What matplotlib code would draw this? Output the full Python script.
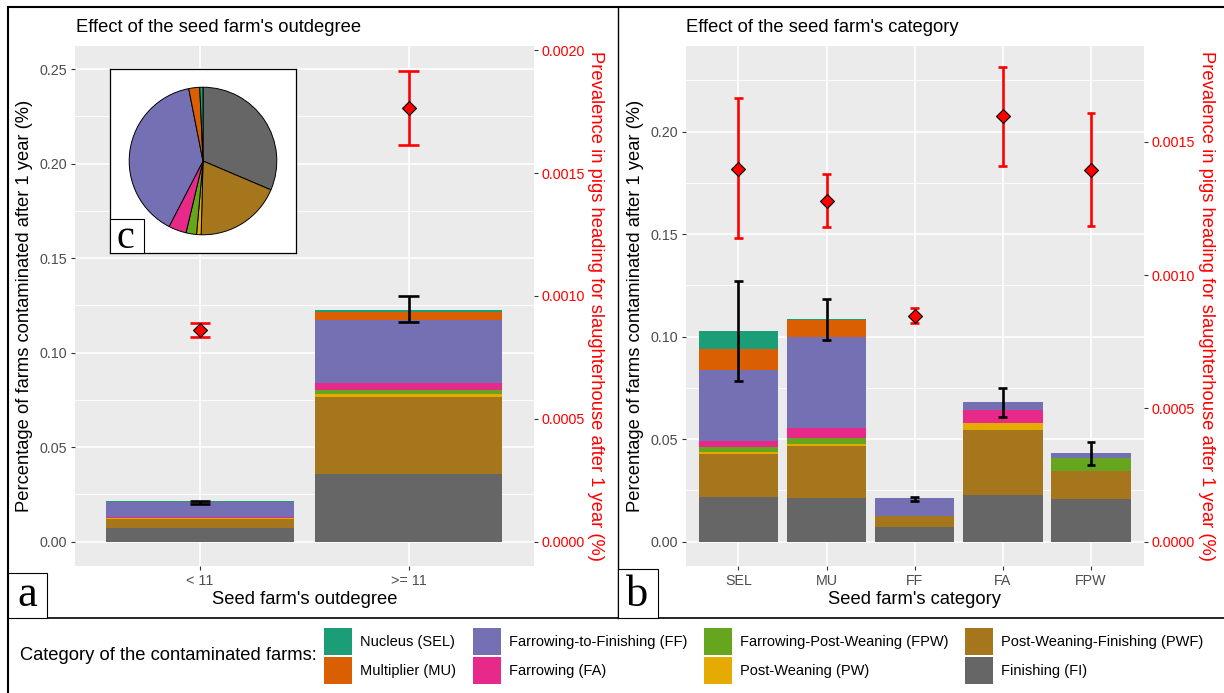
import matplotlib
matplotlib.use('Agg')
import matplotlib.pyplot as plt
import numpy as np
from matplotlib.patches import Patch, Rectangle
from matplotlib.lines import Line2D
from matplotlib.ticker import MultipleLocator, FormatStrFormatter, FixedLocator

# ---------------- data ----------------
farm_codes = ['SEL', 'MU', 'FF', 'FA', 'FPW', 'PW', 'PWF', 'FI']
farm_labels = ['Nucleus (SEL)', 'Multiplier (MU)', 'Farrowing-to-Finishing (FF)',
               'Farrowing (FA)', 'Farrowing-Post-Weaning (FPW)', 'Post-Weaning (PW)',
               'Post-Weaning-Finishing (PWF)', 'Finishing (FI)']
farm_colors = ['#1B9E77', '#D95F02', '#7570B3', '#E7298A', '#66A61E', '#E6AB02',
               '#A6761D', '#666666']

# panel a : outdegree groups, contributions (%) in farm_codes order
outdeg_groups = ['< 11', '>= 11']
outdeg_lt11 = [0.0004, 0.0001, 0.0078, 0.0003, 0.0003, 0.0002, 0.0050, 0.0072]
outdeg_ge11 = [0.0009, 0.0042, 0.0337, 0.0036, 0.0021, 0.0016, 0.0405, 0.0360]
outdeg_err_low = [0.0198, 0.1160]
outdeg_err_high = [0.0217, 0.1300]
outdeg_prev = [0.000861, 0.001766]
outdeg_prev_low = [0.000831, 0.001615]
outdeg_prev_high = [0.000890, 0.001916]

# panel b : seed farm categories
seed_groups = ['SEL', 'MU', 'FF', 'FA', 'FPW']
seed_SEL = [0.0088, 0.0101, 0.0350, 0.0027, 0.0025, 0.0009, 0.0210, 0.0218]
seed_MU = [0.0003, 0.0086, 0.0441, 0.0050, 0.0030, 0.0008, 0.0255, 0.0213]
seed_FF = [0.0, 0.0, 0.0088, 0.0, 0.0, 0.0, 0.0054, 0.00715]
seed_FA = [0.0, 0.0, 0.0039, 0.0063, 0.0, 0.0034, 0.0317, 0.0228]
seed_FPW = [0.0, 0.0, 0.0025, 0.0, 0.0063, 0.0, 0.0137, 0.0208]
seed_err_low = [0.0782, 0.0982, 0.0200, 0.0610, 0.0374]
seed_err_high = [0.1272, 0.1185, 0.0218, 0.0751, 0.0485]
seed_prev = [0.00140, 0.001279, 0.000848, 0.001596, 0.001396]
seed_prev_low = [0.001139, 0.001179, 0.000822, 0.001411, 0.001185]
seed_prev_high = [0.001664, 0.001381, 0.000877, 0.001781, 0.001609]

# panel c : pie shares in farm_codes order
pie_share = [0.007, 0.024, 0.393, 0.039, 0.023, 0.010, 0.190, 0.314]

SEC_RATIO = 130.0

# ---------------- layout helpers ----------------
W, H = 1224, 693
DPI = 100
plt.rcParams['font.family'] = ['Liberation Sans', 'DejaVu Sans']


def fx(px):
    return px / W


def fy(py):
    return 1 - py / H


fig = plt.figure(figsize=(W / DPI, H / DPI), dpi=DPI)
fig.patch.set_facecolor('white')

TICK_FS = 10.3
TITLE_FS = 13.2
GRID_BG = '#EBEBEB'


def make_panel(x0, x1, groups, stacks, err_lo, err_hi, prev, prev_lo, prev_hi,
               ylim, yticks, y2ticks):
    ax = fig.add_axes([fx(x0), fy(566), (x1 - x0) / W, 520 / H])
    ax.set_facecolor(GRID_BG)
    for s in ax.spines.values():
        s.set_visible(False)
    n = len(groups)
    xs = np.arange(n)
    # stacked bars: bottom FI ... top SEL
    bottoms = np.zeros(n)
    for k in range(len(farm_codes) - 1, -1, -1):
        vals = np.array([st[k] for st in stacks])
        ax.bar(xs, vals, width=0.9, bottom=bottoms, color=farm_colors[k],
               edgecolor='none', zorder=2)
        bottoms = bottoms + vals
    # black error bars
    ax.vlines(xs, err_lo, err_hi, color='black', lw=1.9, zorder=3)
    ax.hlines(err_lo, xs - 0.05, xs + 0.05, color='black', lw=1.9, zorder=3)
    ax.hlines(err_hi, xs - 0.05, xs + 0.05, color='black', lw=1.9, zorder=3)

    ax.set_xlim(-0.6, n - 0.4)
    ax.set_ylim(*ylim)
    ax.set_xticks(xs)
    ax.set_xticklabels(groups)
    ax.yaxis.set_major_locator(FixedLocator(yticks))
    ax.yaxis.set_minor_locator(MultipleLocator(0.025))
    ax.yaxis.set_major_formatter(FormatStrFormatter('%.2f'))
    ax.set_axisbelow(True)
    ax.grid(True, which='major', color='white', lw=1.2)
    ax.grid(True, which='minor', axis='y', color='white', lw=0.6)
    ax.tick_params(axis='both', which='major', colors='#333333', labelcolor='#4D4D4D',
                   length=3, width=0.8, labelsize=TICK_FS, pad=2.5)
    ax.tick_params(axis='y', which='minor', length=0)

    ax2 = ax.twinx()
    for s in ax2.spines.values():
        s.set_visible(False)
    ax2.set_ylim(ylim[0] / SEC_RATIO, ylim[1] / SEC_RATIO)
    ax2.yaxis.set_major_locator(FixedLocator(y2ticks))
    ax2.yaxis.set_major_formatter(FormatStrFormatter('%.4f'))
    ax2.tick_params(axis='y', colors='#333333', labelcolor='red', length=3,
                    width=0.8, labelsize=TICK_FS, pad=2.5)
    ax2.vlines(xs, prev_lo, prev_hi, color='red', lw=1.9, zorder=3)
    ax2.hlines(prev_lo, xs - 0.05, xs + 0.05, color='red', lw=1.9, zorder=3)
    ax2.hlines(prev_hi, xs - 0.05, xs + 0.05, color='red', lw=1.9, zorder=3)
    ax2.plot(xs, prev, linestyle='none', marker='D', markersize=7.6,
             markerfacecolor='red', markeredgecolor='black', markeredgewidth=0.8,
             zorder=4)
    return ax, ax2


make_panel(75, 533.6, outdeg_groups, [outdeg_lt11, outdeg_ge11],
           outdeg_err_low, outdeg_err_high, outdeg_prev, outdeg_prev_low,
           outdeg_prev_high, (-0.0129, 0.2623),
           [0, 0.05, 0.10, 0.15, 0.20, 0.25],
           [0, 0.0005, 0.0010, 0.0015, 0.0020])

make_panel(685.5, 1143.9, seed_groups, [seed_SEL, seed_MU, seed_FF, seed_FA, seed_FPW],
           seed_err_low, seed_err_high, seed_prev, seed_prev_low, seed_prev_high,
           (-0.0119, 0.2418),
           [0, 0.05, 0.10, 0.15, 0.20],
           [0, 0.0005, 0.0010, 0.0015])

# titles and axis titles
fig.text(fx(76), fy(31.5), "Effect of the seed farm's outdegree", fontsize=TITLE_FS,
         ha='left', va='baseline')
fig.text(fx(686), fy(31.5), "Effect of the seed farm's category", fontsize=TITLE_FS,
         ha='left', va='baseline')
ylab = 'Percentage of farms contaminated after 1 year (%)'
y2lab = 'Prevalence in pigs heading for slaughterhouse after 1 year (%)'
fig.text(fx(25), fy(306), ylab, rotation=90, ha='center', va='center',
         fontsize=TITLE_FS, rotation_mode='anchor')
fig.text(fx(635.5), fy(306), ylab, rotation=90, ha='center', va='center',
         fontsize=TITLE_FS, rotation_mode='anchor')
fig.text(fx(595.5), fy(306), y2lab, rotation=-90, ha='center', va='center',
         fontsize=TITLE_FS, color='red', rotation_mode='anchor')
fig.text(fx(1206.5), fy(306), y2lab, rotation=-90, ha='center', va='center',
         fontsize=TITLE_FS, color='red', rotation_mode='anchor')
fig.text(fx((75 + 533.6) / 2), fy(604.5), "Seed farm's outdegree", fontsize=TITLE_FS,
         ha='center', va='baseline')
fig.text(fx((685.5 + 1143.9) / 2), fy(604.5), "Seed farm's category", fontsize=TITLE_FS,
         ha='center', va='baseline')

# inset pie (panel c)
ax_in = fig.add_axes([fx(110), fy(253), 186 / W, 184 / H], zorder=5)
ax_in.pie(pie_share[::-1], colors=farm_colors[::-1], startangle=90, counterclock=False,
          wedgeprops=dict(edgecolor='black', linewidth=0.7), radius=1)
ax_in.set_aspect('auto')
ax_in.set_xlim(-1.26, 1.26)
ax_in.set_ylim(-1.247, 1.247)
ax_in.set_frame_on(True)
ax_in.set_facecolor('white')
for s in ax_in.spines.values():
    s.set_visible(True)
    s.set_color('black')
    s.set_linewidth(0.9)
ax_in.set_xticks([])
ax_in.set_yticks([])

# legend
handles = [Patch(facecolor=c, edgecolor='none') for c in farm_colors]
fig.legend(handles, farm_labels, ncol=4, loc='upper left',
           bbox_to_anchor=(fx(324), fy(627.7)), frameon=False, fontsize=10.5,
           handlelength=1.92, handleheight=2.47, handletextpad=0.55,
           labelspacing=0.15, columnspacing=1.15, borderpad=0, borderaxespad=0)
fig.text(fx(20), fy(656), 'Category of the contaminated farms:', fontsize=TITLE_FS,
         ha='left', va='center')

# frame lines
fig.add_artist(Line2D([fx(7.7), fx(1224)], [fy(7.3), fy(7.3)], lw=1.5, color='black'))
fig.add_artist(Line2D([fx(7.7), fx(7.7)], [fy(7.3), fy(693)], lw=1.5, color='black'))
fig.add_artist(Line2D([fx(617.7), fx(617.7)], [fy(7.3), fy(618.3)], lw=1.0, color='black'))
fig.add_artist(Line2D([fx(7.7), fx(1224)], [fy(618.3), fy(618.3)], lw=1.2, color='black'))

# panel letter boxes
for (bx0, by0, bx1, by1, letter, cx, base, fs) in [
        (7.7, 573.3, 46.7, 618.3, 'a', 27.5, 606.5, 32),
        (617.7, 569.3, 658.3, 618.3, 'b', 637.5, 606.5, 32),
        (110, 219, 143.5, 253, 'c', 125.5, 248.3, 29)]:
    fig.add_artist(Rectangle((fx(bx0), fy(by1)), (bx1 - bx0) / W, (by1 - by0) / H,
                             transform=fig.transFigure, facecolor='white',
                             edgecolor='black', lw=0.8, zorder=10))
    fig.text(fx(cx), fy(base), letter, fontsize=fs, ha='center', va='baseline',
             family=['Liberation Serif', 'DejaVu Serif'], zorder=11)

fig.savefig('out.png', dpi=DPI)
